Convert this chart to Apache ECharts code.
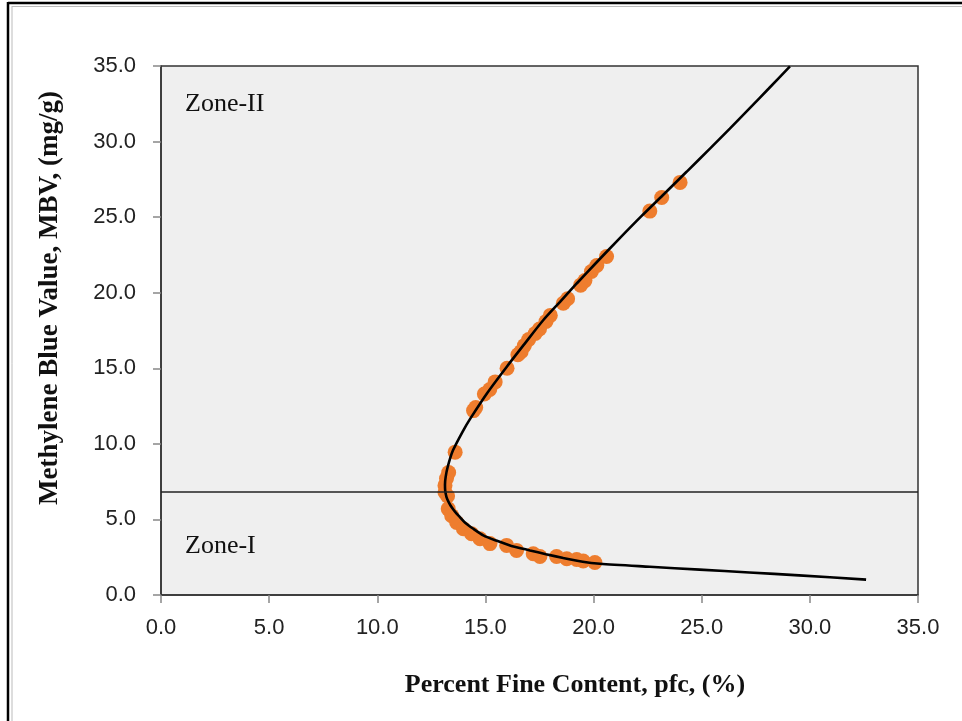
<!DOCTYPE html>
<html><head><meta charset="utf-8">
<script src="https://cdn.jsdelivr.net/npm/echarts@6/dist/echarts.min.js"></script>
<style>html,body{margin:0;padding:0;background:#fff}#c{width:962px;height:721px}</style>
</head><body><div id="c"></div>
<script>
// Observed data points (Percent Fine Content, MBV)
const pfcObserved = [24.0,23.15,22.6,20.6,20.15,19.9,19.6,19.4,18.8,18.6,18.0,17.8,17.5,17.3,17.0,16.8,16.65,16.5,16.0,15.45,15.2,14.95,14.55,14.45,
  13.6,13.3,13.2,13.13,13.13,13.25,13.28,13.44,13.67,13.98,14.36,14.75,15.21,15.98,16.44,17.21,17.52,18.29,18.76,19.22,19.52,20.06];
const mbvObserved = [27.3,26.3,25.4,22.4,21.8,21.4,20.8,20.5,19.6,19.3,18.5,18.1,17.6,17.3,16.9,16.5,16.1,15.9,15.0,14.1,13.6,13.3,12.4,12.2,
  9.45,8.1,7.7,7.25,6.8,6.55,5.7,5.25,4.8,4.38,4.05,3.72,3.4,3.28,2.95,2.73,2.55,2.55,2.4,2.35,2.25,2.15];
// Fitted curve
const pfcFit = [32.6,29.5,27.2,24.9,22.6,20.3,19.5,18.6,17.8,17.06,16.2,15.5,14.9,14.44,14.05,13.82,13.6,13.44,13.3,13.2,13.14,13.13,13.16,13.26,13.5,13.98,14.3,15.1,15.98,16.8,17.67,18.45,19.22,20.1,21.07,22.2,23.2,24.3,25.38,26.3,27.2,28.1,29.08];
const mbvFit = [1.02,1.3,1.49,1.68,1.87,2.07,2.2,2.45,2.7,2.95,3.25,3.6,3.95,4.38,4.8,5.15,5.5,5.8,6.15,6.48,6.9,7.3,7.8,8.5,9.57,10.9,11.67,13.4,15.09,16.6,18.18,19.4,20.61,21.95,23.4,25.05,26.45,28.0,29.53,30.86,32.18,33.51,34.98];
const zoneBoundaryMBV = 6.8;
const axisMin = 0, axisMax = 35, axisStep = 5;
const zoneLabels = ['Zone-II', 'Zone-I'];
const xTitle = 'Percent Fine Content, pfc, (%)';
const yTitle = 'Methylene Blue Value, MBV, (mg/g)';

const obs = pfcObserved.map((x, i) => [x, mbvObserved[i]]);
const fit = pfcFit.map((x, i) => [x, mbvFit[i]]);

const chart = echarts.init(document.getElementById('c'), null, {renderer: 'canvas'});
const labelFont = {fontFamily: 'Liberation Sans', fontSize: 22, color: '#222'};
const axisCommon = {
  type: 'value', min: axisMin, max: axisMax, interval: axisStep,
  splitLine: {show: false},
  axisLine: {show: true, lineStyle: {color: '#333', width: 1.5}},
  axisTick: {show: true, inside: false, length: 8, lineStyle: {color: '#888', width: 1.5}},
  axisLabel: Object.assign({formatter: v => v.toFixed(1)}, labelFont)
};
chart.setOption({
  animation: false,
  backgroundColor: '#fff',
  grid: {left: 161, top: 66, width: 757, height: 529, show: true, backgroundColor: '#efefef', borderColor: '#333', borderWidth: 1.5},
  xAxis: Object.assign({}, axisCommon, {axisLabel: Object.assign({}, axisCommon.axisLabel, {margin: 22})}),
  yAxis: Object.assign({}, axisCommon, {axisLabel: Object.assign({}, axisCommon.axisLabel, {margin: 25})}),
  series: [
    {type: 'scatter', data: obs, symbol: 'circle', symbolSize: 15, itemStyle: {color: '#ee7d2e', opacity: 1}, z: 2},
    {type: 'line', data: fit, showSymbol: false, smooth: 0.25, lineStyle: {color: '#000', width: 2.6}, z: 3, clip: true,
     markLine: {silent: true, symbol: 'none', label: {show: false}, lineStyle: {color: '#222', width: 1.5, type: 'solid'},
       data: [{yAxis: zoneBoundaryMBV}]}}
  ],
  graphic: [
    {type: 'line', shape: {x1: 8, y1: 2, x2: 8, y2: 721}, style: {stroke: '#000', lineWidth: 2.5}},
    {type: 'line', shape: {x1: 8, y1: 3, x2: 962, y2: 3}, style: {stroke: '#000', lineWidth: 2.5}},
    {type: 'line', shape: {x1: 12, y1: 6, x2: 12, y2: 721}, style: {stroke: '#bbb', lineWidth: 1}},
    {type: 'line', shape: {x1: 12, y1: 6.5, x2: 962, y2: 6.5}, style: {stroke: '#bbb', lineWidth: 1}},
    {type: 'text', left: 185, top: 91, style: {text: zoneLabels[0], font: '26px "Liberation Serif"', fill: '#111'}},
    {type: 'text', left: 185, top: 533, style: {text: zoneLabels[1], font: '26px "Liberation Serif"', fill: '#111'}},
    {type: 'text', x: 575, y: 685, style: {text: xTitle, font: 'bold 26px "Liberation Serif"', fill: '#111', textAlign: 'center', textVerticalAlign: 'middle'}},
    {type: 'text', x: 50, y: 298, rotation: Math.PI / 2, style: {text: yTitle, font: 'bold 27px "Liberation Serif"', fill: '#111', textAlign: 'center', textVerticalAlign: 'middle'}}
  ]
});
</script>
</body></html>
